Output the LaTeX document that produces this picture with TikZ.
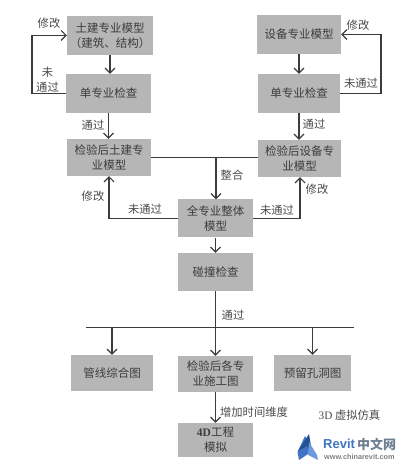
\documentclass[tikz,border=0pt]{standalone}
\usepackage{xcolor}
\usepackage{fontspec}
\usepackage{tikz}
\usetikzlibrary{positioning, arrows.meta}
\setmainfont{Noto Sans CJK SC}
\newfontfamily\latinfont{Liberation Serif}
\newfontfamily\logofont{Liberation Sans}
\definecolor{boxgray}{HTML}{B6B6B6}
\definecolor{inkgray}{HTML}{3C3C3C}
\definecolor{labelgray}{HTML}{4A4A4A}
\definecolor{revitblue}{HTML}{3F74C4}
\definecolor{revitdark}{HTML}{24518F}
\definecolor{revitlight}{HTML}{6E9BDD}
\definecolor{revitgray}{HTML}{6F7F92}
\tikzset{
  stepbox/.style={fill=boxgray, text=inkgray, align=center, inner sep=0pt, font=\fontsize{11.5}{15}\selectfont},
  flowline/.style={draw=inkgray, line width=1.1pt},
  flowarrow/.style={flowline, -{Straight Barb[length=5pt, width=10pt]}},
  steplabel/.style={text=labelgray, align=center, inner sep=0pt, font=\fontsize{11.3}{15}\selectfont},
}

\begin{document}
\begin{tikzpicture}[x=10pt, y=10pt]
  \useasboundingbox (0,0) rectangle (40.7,46.8);
  % left column: civil model
  \node[stepbox, minimum width=86pt, minimum height=39pt] (civilmodel) at (11.0,43.25) {土建专业模型\\（建筑、结构）};
  \node[stepbox, minimum width=85pt, minimum height=39pt] (civilcheck) at (10.85,37.45) {单专业检查};
  \node[stepbox, minimum width=84pt, minimum height=37pt] (civilpassed) at (10.9,31.05) {检验后土建专\\业模型};
  % right column: equipment model
  \node[stepbox, minimum width=84pt, minimum height=39pt] (equipmodel) at (29.9,43.35) {设备专业模型};
  \node[stepbox, minimum width=82pt, minimum height=39pt] (equipcheck) at (29.9,37.45) {单专业检查};
  \node[stepbox, minimum width=83pt, minimum height=37pt] (equippassed) at (29.95,30.95) {检验后设备专\\业模型};
  % middle column
  \node[stepbox, minimum width=75pt, minimum height=38pt] (wholemodel) at (21.55,24.95) {全专业整体\\模型};
  \node[stepbox, minimum width=75pt, minimum height=38pt] (clashcheck) at (21.55,19.6) {碰撞检查};
  \node[stepbox, minimum width=82pt, minimum height=36pt] (pipedrawing) at (11.2,9.5) {管线综合图};
  \node[stepbox, minimum width=75pt, minimum height=36pt] (builddrawing) at (21.55,9.4) {检验后各专\\业施工图};
  \node[stepbox, minimum width=77pt, minimum height=36pt] (holedrawing) at (31.25,9.5) {预留孔洞图};
  \node[stepbox, minimum width=75pt, minimum height=34pt] (fourd) at (21.55,2.8) {{\latinfont\bfseries 4D}工程\\模拟};
  % turning points
  \coordinate (civilturn) at (3.2,37.45);
  \coordinate (equipturn) at (38.1,37.45);
  \coordinate (mergeleft) at (21.6,31.0);
  \coordinate (wholeleft) at (10.9,24.95);
  \coordinate (wholeright) at (30.0,24.95);
  \coordinate (busleft) at (8.6,14.1);
  \coordinate (busright) at (35.4,14.1);
  % arrows down the columns
  \draw[flowarrow] (civilmodel.south) -- (civilmodel.south |- civilcheck.north);
  \draw[flowarrow] (civilcheck.south) -- (civilcheck.south |- civilpassed.north);
  \draw[flowarrow] (equipmodel.south) -- (equipcheck.north);
  \draw[flowarrow] (equipcheck.south) -- (equipcheck.south |- equippassed.north);
  % feedback loops
  \draw[flowarrow] (civilcheck.west) -| (civilturn) |- (civilmodel.west);
  \draw[flowarrow] (equipcheck.east) -| (equipturn) |- (equipmodel.east);
  \draw[flowarrow] (wholemodel.west) -- (wholeleft) -- (wholeleft |- civilpassed.south);
  \draw[flowarrow] (wholemodel.east) -- (wholeright) -- (wholeright |- equippassed.south);
  % merge
  \draw[flowline, line width=0.8pt] (civilpassed.east) -- (civilpassed.east -| equippassed.west);
  \draw[flowarrow] (mergeleft) -- (mergeleft |- wholemodel.north);
  \draw[flowarrow] (wholemodel.south) -- (clashcheck.north);
  % bus
  \draw[flowline, line width=0.8pt] (busleft) -- (busright);
  \draw[flowarrow] (clashcheck.south) -- (builddrawing.north);
  \draw[flowarrow] (pipedrawing.north |- busleft) -- (pipedrawing.north);
  \draw[flowarrow] (holedrawing.north |- busleft) -- (holedrawing.north);
  \draw[flowarrow] (builddrawing.south) -- (fourd.north);
  % labels
  \node[steplabel] (fixa) at (4.9,44.5) {修改};
  \node[steplabel] (failb) at (4.75,38.85) {未\\通过};
  \node[steplabel] (passa) at (9.3,34.3) {通过};
  \node[steplabel] (fixb) at (9.3,27.2) {修改};
  \node[steplabel] (failc) at (14.5,25.9) {未通过};
  \node[steplabel] (merge) at (23.2,29.3) {整合};
  \node[steplabel] (fixc) at (35.8,44.3) {修改};
  \node[steplabel] (faild) at (36.1,38.5) {未通过};
  \node[steplabel] (passb) at (31.4,34.4) {通过};
  \node[steplabel] (fixd) at (31.7,27.9) {修改};
  \node[steplabel] (faile) at (27.7,25.8) {未通过};
  \node[steplabel] (passc) at (23.3,15.3) {通过};
  \node[steplabel] (addtime) at (25.4,5.6) {增加时间维度};
  \node[steplabel] (simulate) at (34.95,5.3) {{\latinfont 3D} 虚拟仿真};
  % logo
  \fill[revitblue] (30.5,3.2) -- (30.9,2.4) -- (31.1,1.6) -- (29.9,0.8) -- (29.75,1.6) -- cycle;
  \fill[revitdark] (30.9,3.4) -- (29.8,1.7) -- (30.7,2.2) -- (31.2,1.6) -- cycle;
  \fill[revitlight] (30.9,2.6) -- (31.7,1.3) -- (31.8,0.8) -- (30.8,1.3) -- cycle;
  \node[inner sep=0pt, text=revitblue, anchor=west, font=\logofont\bfseries\fontsize{13}{13}\selectfont] (revitname) at (32.3,2.4) {Revit};
  \node[inner sep=0pt, text=revitgray, anchor=west, font=\bfseries\fontsize{13}{13}\selectfont] (revitcn) at (35.7,2.4) {中文网};
  \node[inner sep=0pt, text=gray, anchor=west, font=\logofont\bfseries\fontsize{7.3}{8}\selectfont] (revitsite) at (32.4,1.15) {www.chinarevit.com};
\end{tikzpicture}
\end{document}
